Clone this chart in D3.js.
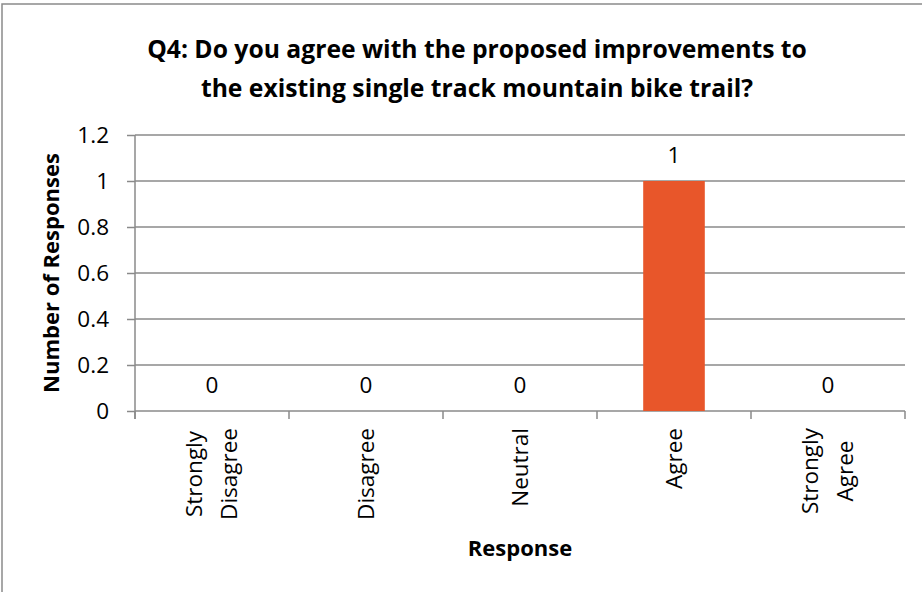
<!DOCTYPE html>
<html>
<head>
<meta charset="utf-8">
<script src="https://cdn.jsdelivr.net/npm/d3@7"></script>
<style>
  body { margin: 0; background: #fff; }
  text { font-family: "Open Sans", sans-serif; fill: #000; }
</style>
</head>
<body>
<div id="chart"></div>
<script>
// Data
var categories = ["Strongly Disagree", "Disagree", "Neutral", "Agree", "Strongly Agree"];
var categoryLines = [["Strongly", "Disagree"], ["Disagree"], ["Neutral"], ["Agree"], ["Strongly", "Agree"]];
var responses = [0, 0, 0, 1, 0];
var yTicks = [0, 0.2, 0.4, 0.6, 0.8, 1, 1.2];
var titleLines = ["Q4: Do you agree with the proposed improvements to",
                  "the existing single track mountain bike trail?"];

// Chart setup
var svgWidth = 922;
var svgHeight = 592;
var plot = { left: 135, right: 905, top: 135, bottom: 411 };
var labelSize = "22.5px";

var svg = d3.select("#chart").append("svg")
    .attr("width", svgWidth)
    .attr("height", svgHeight);

// outer frame
svg.append("rect")
    .attr("x", 2)
    .attr("y", 4)
    .attr("width", 960)
    .attr("height", 640)
    .attr("fill", "none")
    .attr("stroke", "#8a8a8a")
    .attr("stroke-width", 1.5);

// Scales
var x = d3.scaleBand()
    .domain(categories)
    .range([plot.left, plot.right])
    .paddingInner(0.6)
    .paddingOuter(0.3);

var y = d3.scaleLinear()
    .domain([0, 1.2])
    .range([plot.bottom, plot.top]);

// Gridlines
svg.append("g")
    .selectAll("line")
    .data(yTicks.filter(d => d > 0))
    .enter()
    .append("line")
    .attr("x1", plot.left)
    .attr("x2", plot.right)
    .attr("y1", d => y(d))
    .attr("y2", d => y(d))
    .attr("stroke", "#8a8a8a")
    .attr("stroke-width", 1.5);

// Y axis
var leftAxis = d3.axisLeft(y)
    .tickValues(yTicks)
    .tickSize(8)
    .tickPadding(18)
    .tickFormat(d => String(+d.toFixed(1)));

var yAxisG = svg.append("g")
    .attr("transform", `translate(${plot.left},0)`)
    .call(leftAxis);
yAxisG.select(".domain").remove();
yAxisG.selectAll(".tick line").attr("stroke", "#8a8a8a").attr("stroke-width", 1.5);
yAxisG.selectAll(".tick text")
    .attr("font-size", labelSize)
    .attr("font-family", "Open Sans")
    .attr("fill", "#000");

svg.append("line")
    .attr("x1", plot.left).attr("x2", plot.left)
    .attr("y1", plot.top).attr("y2", plot.bottom + 8)
    .attr("stroke", "#8a8a8a")
    .attr("stroke-width", 1.5);

// X axis line + boundary ticks
svg.append("line")
    .attr("x1", plot.left).attr("x2", plot.right)
    .attr("y1", plot.bottom).attr("y2", plot.bottom)
    .attr("stroke", "#8a8a8a")
    .attr("stroke-width", 1.5);

var step = x.step();
var edges = categories.map(c => x(c) - (step - x.bandwidth()) / 2);
edges.push(plot.right);
svg.append("g")
    .selectAll("line")
    .data(edges)
    .enter()
    .append("line")
    .attr("x1", d => d).attr("x2", d => d)
    .attr("y1", plot.bottom).attr("y2", plot.bottom + 8)
    .attr("stroke", "#8a8a8a")
    .attr("stroke-width", 1.5);

// Bars
svg.append("g")
    .selectAll("rect")
    .data(responses)
    .enter()
    .append("rect")
    .attr("x", (d, i) => x(categories[i]))
    .attr("y", d => y(d))
    .attr("width", x.bandwidth())
    .attr("height", d => plot.bottom - y(d))
    .attr("fill", "#e8562a");

// Value labels
svg.append("g")
    .selectAll("text")
    .data(responses)
    .enter()
    .append("text")
    .attr("x", (d, i) => x(categories[i]) + x.bandwidth() / 2)
    .attr("y", d => y(d) - 18)
    .attr("text-anchor", "middle")
    .attr("font-size", labelSize)
    .text(d => d);

// Category labels (rotated)
var labelTop = 428;
var catGroups = svg.append("g")
    .selectAll("g")
    .data(categoryLines)
    .enter()
    .append("g")
    .attr("transform", (d, i) => `translate(${x(categories[i]) + x.bandwidth() / 2},${labelTop}) rotate(-90)`);

catGroups.each(function(lines) {
    var g = d3.select(this);
    var spacing = 35;
    var texts = lines.map(function(line, j) {
        return g.append("text")
            .attr("y", (j - (lines.length - 1) / 2) * spacing)
            .attr("dy", "0.35em")
            .attr("font-size", labelSize)
            .text(line);
    });
    var maxLen = d3.max(texts, t => t.node().getComputedTextLength());
    texts.forEach(t => t.attr("x", -maxLen / 2).attr("text-anchor", "middle"));
});

// Title
svg.append("g")
    .selectAll("text")
    .data(titleLines)
    .enter()
    .append("text")
    .attr("x", 477)
    .attr("y", (d, i) => 58 + i * 39)
    .attr("text-anchor", "middle")
    .attr("font-size", "24.7px")
    .attr("font-weight", "bold")
    .text(d => d);

// Axis titles
svg.append("text")
    .attr("transform", `translate(59, ${(plot.top + plot.bottom) / 2}) rotate(-90)`)
    .attr("text-anchor", "middle")
    .attr("font-size", "22px")
    .attr("font-weight", "bold")
    .text("Number of Responses");

svg.append("text")
    .attr("x", (plot.left + plot.right) / 2)
    .attr("y", 556)
    .attr("text-anchor", "middle")
    .attr("font-size", "22px")
    .attr("font-weight", "bold")
    .text("Response");
</script>
</body>
</html>
